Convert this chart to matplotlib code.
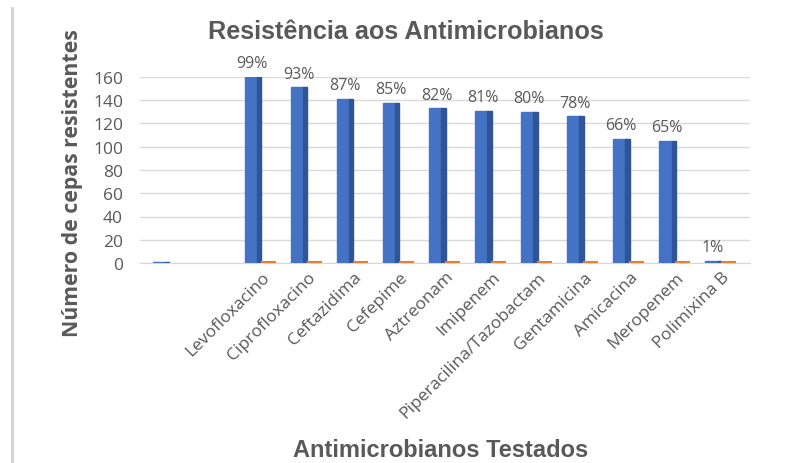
import numpy as np
import matplotlib.pyplot as plt
from matplotlib.lines import Line2D

# Dados
categorias = ["", "", "Levofloxacino", "Ciprofloxacino", "Ceftazidima", "Cefepime",
              "Aztreonam", "Imipenem", "Piperacilina/Tazobactam", "Gentamicina",
              "Amicacina", "Meropenem", "Polimixina B"]
resistentes = [1, 0, 160, 151, 141, 138, 133, 131, 130, 126, 107, 105, 2]
serie_laranja = [0, 0, 1, 1, 1, 1, 1, 1, 1, 1, 1, 1, 1]
percentuais = ["", "", "99%", "93%", "87%", "85%", "82%", "81%", "80%", "78%",
               "66%", "65%", "1%"]
yticks = [0, 20, 40, 60, 80, 100, 120, 140, 160]

cinza = "#595959"
azul = "#4472C4"
azul_lado = "#2F5597"
laranja = "#ED7D31"


def main():
    fig = plt.figure(figsize=(7.89, 4.64), dpi=100)
    ax = fig.add_axes([0.177, 0.431, 0.773, 0.401])

    x = np.arange(len(categorias))
    v = np.array(resistentes)

    # Barras azuis com uma face lateral mais escura (efeito 3D simples)
    mask = v > 0
    ax.bar(x[mask] - 0.23, v[mask], width=0.28, color=azul, edgecolor=azul,
           linewidth=1, zorder=3)
    ax.bar(x[mask] - 0.05, v[mask], width=0.09, color=azul_lado, edgecolor=azul_lado,
           linewidth=1, zorder=3)

    # Segunda série (quase zero)
    o = np.array(serie_laranja)
    m2 = o > 0
    ax.bar(x[m2] + 0.14, o[m2], width=0.28, color=laranja, edgecolor=laranja,
           linewidth=1.5, zorder=3)

    # Rótulos de porcentagem
    for xi, val, txt in zip(x, v, percentuais):
        if txt:
            ax.text(xi - 0.2, val + 5, txt, ha="center", va="bottom",
                    fontsize=11.5, color=cinza, family="Open Sans", zorder=4)

    ax.set_xlim(-0.65, 12.6)
    ax.set_ylim(0, 160)
    ax.set_yticks(yticks)
    ax.set_xticks(x)
    ax.set_xticklabels(categorias, rotation=45, ha="right", rotation_mode="anchor",
                       fontsize=12.5, color=cinza, family="Open Sans")
    for lbl in ax.get_yticklabels():
        lbl.set_fontsize(12.5)
        lbl.set_color(cinza)
        lbl.set_family("Open Sans")
    ax.tick_params(axis="both", length=0)
    ax.tick_params(axis="y", pad=12)
    ax.tick_params(axis="x", pad=4)

    ax.grid(axis="y", color="#D9D9D9", linewidth=1, zorder=0)
    for s in ["top", "right", "left"]:
        ax.spines[s].set_visible(False)
    ax.spines["bottom"].set_color("#D9D9D9")

    ax.set_ylabel("Número de cepas resistentes", fontsize=15.3, fontweight="bold",
                  color=cinza, family="Open Sans")
    ax.yaxis.set_label_coords(-0.093, 0.435)

    fig.text(0.515, 0.931, "Resistência aos Antimicrobianos", ha="center", va="center",
             fontsize=18.2, fontweight="bold", color=cinza, family="Liberation Sans")
    fig.text(0.558, 0.03, "Antimicrobianos Testados", ha="center", va="center",
             fontsize=17, fontweight="bold", color=cinza, family="Liberation Sans")

    # borda esquerda da imagem original
    fig.add_artist(Line2D([0.015, 0.015], [0, 0.98], color="#D0D0D0", linewidth=2,
                          transform=fig.transFigure))

    fig.savefig("out.png", dpi=100)


if __name__ == "__main__":
    main()
